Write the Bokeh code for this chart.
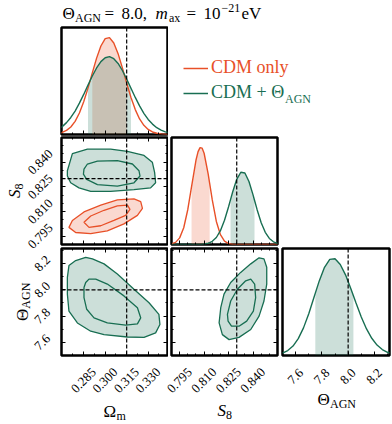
import math
from bokeh.plotting import figure
from bokeh.models import (Range1d, Span, LabelSet, ColumnDataSource, FixedTicker,
                          CustomJSTickFormatter, Legend, LegendItem, LinearAxis, Spacer)
from bokeh.layouts import column, row
from bokeh.core.properties import value
from bokeh.embed import file_html
from bokeh.resources import INLINE

RED = "#E85028"
GREEN = "#186E52"
FILL_ALPHA = 0.22
SERIF = "Liberation Serif"

# ---------------- data ----------------
TRUTH_OM = 0.315
TRUTH_S8 = 0.830
TRUTH_TH = 8.0

OM_RANGE = (0.2695, 0.3435)
S8_RANGE = (0.790, 0.855)
TH_RANGE = (7.50, 8.315)
PDF_RANGE = (0.0, 1.1)

OM_TICKS = [0.285, 0.300, 0.315, 0.330]
OM_LABELS = ["0.285", "0.300", "0.315", "0.330"]
OM_MINOR = [0.2775, 0.2925, 0.3075, 0.3225, 0.3375]
S8_TICKS = [0.795, 0.810, 0.825, 0.840]
S8_LABELS = ["0.795", "0.810", "0.825", "0.840"]
S8_MINOR = [0.790, 0.800, 0.805, 0.815, 0.820, 0.830, 0.835, 0.845, 0.850]
TH_TICKS = [7.6, 7.8, 8.0, 8.2]
TH_LABELS = ["7.6", "7.8", "8.0", "8.2"]
TH_MINOR = [7.5, 7.7, 7.9, 8.1, 8.3]

# 1D marginals: Omega_m
OM_GRID = [0.267, 0.270, 0.273, 0.276, 0.279, 0.282, 0.285, 0.288, 0.291, 0.294, 0.297,
           0.300, 0.303, 0.306, 0.309, 0.312, 0.315, 0.318, 0.321, 0.324, 0.327, 0.330,
           0.333, 0.336, 0.339, 0.342, 0.345]
OM_PDF_CDM = [0.010, 0.021, 0.042, 0.077, 0.135, 0.221, 0.336, 0.477, 0.633, 0.785, 0.910,
              0.985, 0.996, 0.941, 0.831, 0.685, 0.528, 0.380, 0.256, 0.160, 0.094, 0.052,
              0.026, 0.013, 0.006, 0.002, 0.001]
OM_PDF_AGN = [0.052, 0.081, 0.122, 0.175, 0.241, 0.322, 0.412, 0.508, 0.601, 0.684, 0.749,
              0.789, 0.800, 0.779, 0.730, 0.658, 0.571, 0.476, 0.381, 0.294, 0.218, 0.155,
              0.107, 0.070, 0.045, 0.027, 0.016]
OM_BAND_CDM = (0.291, 0.315)
OM_BAND_AGN = (0.288, 0.318)

# 1D marginals: S8
S8_GRID = [0.7875, 0.790, 0.7925, 0.795, 0.7975, 0.800, 0.8023, 0.805, 0.8063, 0.8075,
           0.8088, 0.810, 0.8125, 0.8134, 0.815, 0.8175, 0.820, 0.8225, 0.825, 0.8262,
           0.8275, 0.830, 0.8325, 0.835, 0.8375, 0.840, 0.8409, 0.8425, 0.845, 0.8475,
           0.850, 0.8525, 0.855, 0.8575]
S8_PDF_CDM = [0.001, 0.006, 0.022, 0.068, 0.172, 0.360, 0.596, 0.866, 0.955, 0.996,
              0.990, 0.938, 0.724, 0.628, 0.458, 0.237, 0.101, 0.035, 0.010, 0.005,
              0.002, 0.0, 0.0, 0.0, 0.0, 0.0, 0.0, 0.0, 0.0, 0.0,
              0.0, 0.0, 0.0, 0.0]
S8_PDF_AGN = [0.0, 0.0, 0.0, 0.0, 0.0, 0.0, 0.0, 0.0, 0.001, 0.001,
              0.002, 0.005, 0.013, 0.019, 0.033, 0.072, 0.142, 0.249, 0.388, 0.461,
              0.540, 0.670, 0.743, 0.735, 0.648, 0.510, 0.455, 0.358, 0.224, 0.125,
              0.062, 0.028, 0.011, 0.004]
S8_BAND_CDM = (0.8023, 0.8134)
S8_BAND_AGN = (0.8262, 0.8409)

# 1D marginal: Theta_AGN
TH_GRID = [7.46, 7.50, 7.54, 7.58, 7.62, 7.66, 7.70, 7.74, 7.75, 7.78, 7.82, 7.86, 7.90,
           7.94, 7.98, 8.02, 8.04, 8.06, 8.10, 8.14, 8.18, 8.22, 8.26, 8.30, 8.34]
TH_PDF_AGN = [0.011, 0.024, 0.051, 0.097, 0.174, 0.284, 0.430, 0.598, 0.641, 0.767, 0.907,
              0.988, 0.994, 0.936, 0.829, 0.689, 0.614, 0.539, 0.395, 0.273, 0.177, 0.107,
              0.061, 0.033, 0.017]
TH_BAND_AGN = (7.75, 8.04)

# 2D contours (68% inner, 95% outer)
OS_AGN_OUTER_OM = [0.2736, 0.2771, 0.2876, 0.3038, 0.3155, 0.3271, 0.3329, 0.3345, 0.3352,
                   0.3317, 0.3201, 0.3038, 0.2899, 0.2817, 0.2759, 0.2736]
OS_AGN_OUTER_S8 = [0.8348, 0.8452, 0.8479, 0.8479, 0.8466, 0.8441, 0.8400, 0.8338, 0.8275,
                   0.8244, 0.8233, 0.8223, 0.8223, 0.8244, 0.8275, 0.8316]
OS_AGN_INNER_OM = [0.2852, 0.2876, 0.2946, 0.3085, 0.3190, 0.3236, 0.3243, 0.3201, 0.3085,
                   0.2946, 0.2871, 0.2848]
OS_AGN_INNER_S8 = [0.8358, 0.8389, 0.8406, 0.8410, 0.8389, 0.8348, 0.8316, 0.8275, 0.8254,
                   0.8264, 0.8296, 0.8327]
OS_CDM_OUTER_OM = [0.2747, 0.2771, 0.2852, 0.2969, 0.3085, 0.3201, 0.3248, 0.3260, 0.3225,
                   0.3131, 0.3015, 0.2899, 0.2794]
OS_CDM_OUTER_S8 = [0.8004, 0.8046, 0.8098, 0.8139, 0.8171, 0.8177, 0.8160, 0.8119, 0.8077,
                   0.8025, 0.7983, 0.7966, 0.7973]
OS_CDM_INNER_OM = [0.2852, 0.2899, 0.2992, 0.3085, 0.3155, 0.3173, 0.3143, 0.3061, 0.2969,
                   0.2887]
OS_CDM_INNER_S8 = [0.8035, 0.8073, 0.8108, 0.8135, 0.8139, 0.8113, 0.8077, 0.8046, 0.8014,
                   0.8004]

OT_AGN_OUTER_OM = [0.2747, 0.2794, 0.2864, 0.2911, 0.2992, 0.3085, 0.3201, 0.3306, 0.3375,
                   0.3382, 0.3352, 0.3271, 0.3155, 0.2992, 0.2899, 0.2806, 0.2747, 0.2736,
                   0.2736]
OT_AGN_OUTER_TH = [8.185, 8.223, 8.248, 8.236, 8.198, 8.121, 8.005, 7.902, 7.813, 7.736,
                   7.672, 7.638, 7.641, 7.659, 7.685, 7.748, 7.838, 7.967, 8.095]
OT_AGN_INNER_OM = [0.2864, 0.2887, 0.2934, 0.3015, 0.3131, 0.3225, 0.3248, 0.3225, 0.3143,
                   0.3015, 0.2922, 0.2871, 0.2852, 0.2852]
OT_AGN_INNER_TH = [8.056, 8.082, 8.082, 8.044, 7.954, 7.864, 7.787, 7.741, 7.731, 7.748,
                   7.787, 7.852, 7.941, 8.018]

ST_AGN_OUTER_S8 = [0.8202, 0.8222, 0.8263, 0.8324, 0.8386, 0.8437, 0.8467, 0.8484, 0.8484,
                   0.8467, 0.8437, 0.8386, 0.8314, 0.8253, 0.8212, 0.8192]
ST_AGN_OUTER_TH = [7.864, 7.967, 8.056, 8.133, 8.198, 8.244, 8.236, 8.172, 8.044, 7.915,
                   7.800, 7.698, 7.638, 7.621, 7.659, 7.748]
ST_AGN_INNER_S8 = [0.8243, 0.8263, 0.8304, 0.8355, 0.8386, 0.8410, 0.8416, 0.8402, 0.8361,
                   0.8314, 0.8268, 0.8247]
ST_AGN_INNER_TH = [7.813, 7.915, 8.005, 8.069, 8.082, 8.044, 7.941, 7.838, 7.762, 7.723,
                   7.723, 7.762]

# ---------------- layout (page pixels) ----------------
FX = [61, 171, 282]      # frame left edges of the three columns
FW = [106, 106, 107]
FY = [27, 137, 248]      # frame top edges of the three rows
FH = [107, 107, 107]
COL_RANGE = [OM_RANGE, S8_RANGE, TH_RANGE]
ROW_RANGE = [PDF_RANGE, S8_RANGE, TH_RANGE]


def page_x(v, col):
    r = COL_RANGE[col]
    return FX[col] + (v - r[0]) / (r[1] - r[0]) * FW[col]


def page_y(v, rowi):
    r = ROW_RANGE[rowi]
    return FY[rowi] + (r[1] - v) / (r[1] - r[0]) * FH[rowi]


def make_fig(col, rowi, bl, br, bt, bb, diag=False):
    yr = PDF_RANGE if diag else ROW_RANGE[rowi]
    p = figure(x_range=Range1d(*COL_RANGE[col]), y_range=Range1d(*yr),
               frame_width=FW[col], frame_height=FH[rowi],
               min_border_left=bl, min_border_right=br, min_border_top=bt, min_border_bottom=bb,
               output_backend="svg", toolbar_location=None, tools="")
    p.xgrid.visible = False
    p.ygrid.visible = False
    p.outline_line_color = "black"
    p.outline_line_width = 2.5
    p.background_fill_color = "white"
    p.border_fill_color = "white"
    return p


def make_canvas(x0, x1, y0, y1):
    """A plain text strip whose data coordinates are page pixels (y downward as negative)."""
    p = figure(x_range=Range1d(x0, x1), y_range=Range1d(-y1, -y0),
               width=x1 - x0, height=y1 - y0, min_border=0,
               output_backend="svg", toolbar_location=None, tools="")
    p.axis.visible = False
    p.grid.visible = False
    p.outline_line_color = None
    p.background_fill_color = "white"
    p.border_fill_color = "white"
    return p


def style_axis(ax, major, minor):
    ax.ticker = FixedTicker(ticks=major, minor_ticks=minor)
    ax.formatter = CustomJSTickFormatter(code="return ''")
    ax.major_label_text_font_size = "0px"
    ax.major_label_standoff = 0
    ax.major_tick_in = 4
    ax.major_tick_out = 0
    ax.minor_tick_in = 2
    ax.minor_tick_out = 0
    ax.axis_line_color = None
    ax.major_tick_line_color = "black"
    ax.minor_tick_line_color = "black"


def mirror_axes(p, xmajor, xminor, ymajor, yminor):
    top = LinearAxis()
    style_axis(top, xmajor, xminor)
    p.add_layout(top, "above")
    right = LinearAxis()
    style_axis(right, ymajor, yminor)
    p.add_layout(right, "right")


def add_text(p, px, py, text, size, angle=0.0, italic=False, color="black"):
    src = ColumnDataSource(dict(x=[px], y=[-py], t=[text]))
    p.add_layout(LabelSet(x="x", y="y", text="t", source=src, angle=angle,
                          text_font=value(SERIF), text_font_size=value(f"{size}px"),
                          text_color=color,
                          text_font_style="italic" if italic else "normal",
                          text_align="left", text_baseline="alphabetic"))


def tick_label_set(p, xs, ys, labels):
    src = ColumnDataSource(dict(x=xs, y=[-v for v in ys], t=labels))
    p.add_layout(LabelSet(x="x", y="y", text="t", source=src, angle=math.pi / 4,
                          text_align="center", text_baseline="middle",
                          text_font=value(SERIF), text_font_size="13px", text_color="black"))


def band(p, grid, pdf, lims, color):
    idx = [i for i, v in enumerate(grid) if lims[0] - 1e-9 <= v <= lims[1] + 1e-9]
    xs = [grid[i] for i in idx]
    ys = [pdf[i] for i in idx]
    p.varea(x=xs, y1=[0] * len(xs), y2=ys, fill_color=color, fill_alpha=FILL_ALPHA)


def dashed(p, loc, dim):
    p.add_layout(Span(location=loc, dimension=dim, line_color="black",
                      line_dash="4 2", line_width=1.2))


def contour(p, xo, yo, xi, yi, color):
    p.patch(xo, yo, fill_color=color, fill_alpha=FILL_ALPHA, line_color=color, line_width=1.3)
    p.patch(xi, yi, fill_color=None, line_color=color, line_width=1.3)


# ---------------- title strip ----------------
T = make_canvas(0, 392, 0, 26)
add_text(T, 62, 18.5, "Θ", 17)
add_text(T, 74.5, 21.5, "AGN", 12)
add_text(T, 104, 18.5, "=", 17)
add_text(T, 121, 18.5, "8.0,", 17)
add_text(T, 155, 18.5, "m", 17, italic=True)
add_text(T, 168.5, 21.5, "ax", 12)
add_text(T, 186, 18.5, "=", 17)
add_text(T, 203, 18.5, "10", 17)
add_text(T, 221, 11.5, "−21", 12)
add_text(T, 241, 18.5, "eV", 17)

# ---------------- row 1 ----------------
f11 = make_fig(0, 0, 2, 1, 1, 2, diag=True)
style_axis(f11.xaxis[0], OM_TICKS, OM_MINOR)
f11.yaxis.visible = False
band(f11, OM_GRID, OM_PDF_CDM, OM_BAND_CDM, RED)
band(f11, OM_GRID, OM_PDF_AGN, OM_BAND_AGN, GREEN)
f11.line(OM_GRID, OM_PDF_CDM, line_color=RED, line_width=1.4)
f11.line(OM_GRID, OM_PDF_AGN, line_color=GREEN, line_width=1.4)
dashed(f11, TRUTH_OM, "height")

# legend strip (right of the top panel); proxies carry the same series, outside this strip's view
R1 = make_canvas(168, 392, 26, 136)
key_cdm = R1.line(OM_GRID, OM_PDF_CDM, line_color=RED, line_width=1.5)
key_agn = R1.line(OM_GRID, OM_PDF_AGN, line_color=GREEN, line_width=1.5)
for label, rend, color, vy in [("CDM only", key_cdm, RED, 56), ("CDM + Θ", key_agn, GREEN, 31)]:
    lg = Legend(items=[LegendItem(label=label, renderers=[rend])], location=(15, vy),
                padding=0, margin=0, spacing=0, glyph_width=25, glyph_height=20,
                label_height=20, label_standoff=3, border_line_alpha=0,
                background_fill_alpha=0, label_text_font=SERIF,
                label_text_font_size="18px", label_text_color=color)
    R1.add_layout(lg)
add_text(R1, 284.5, 104, "AGN", 12, color=GREEN)

# ---------------- row 2 ----------------
f21 = make_fig(0, 1, 2, 1, 1, 2)
style_axis(f21.xaxis[0], OM_TICKS, OM_MINOR)
style_axis(f21.yaxis[0], S8_TICKS, S8_MINOR)
mirror_axes(f21, OM_TICKS, OM_MINOR, S8_TICKS, S8_MINOR)
contour(f21, OS_AGN_OUTER_OM, OS_AGN_OUTER_S8, OS_AGN_INNER_OM, OS_AGN_INNER_S8, GREEN)
contour(f21, OS_CDM_OUTER_OM, OS_CDM_OUTER_S8, OS_CDM_INNER_OM, OS_CDM_INNER_S8, RED)
dashed(f21, TRUTH_OM, "height")
dashed(f21, TRUTH_S8, "width")

f22 = make_fig(1, 1, 3, 2, 1, 2, diag=True)
style_axis(f22.xaxis[0], S8_TICKS, S8_MINOR)
f22.yaxis.visible = False
band(f22, S8_GRID, S8_PDF_CDM, S8_BAND_CDM, RED)
band(f22, S8_GRID, S8_PDF_AGN, S8_BAND_AGN, GREEN)
f22.line(S8_GRID, S8_PDF_CDM, line_color=RED, line_width=1.4)
f22.line(S8_GRID, S8_PDF_AGN, line_color=GREEN, line_width=1.4)
dashed(f22, TRUTH_S8, "height")

# ---------------- row 3 ----------------
f31 = make_fig(0, 2, 2, 1, 2, 2)
style_axis(f31.xaxis[0], OM_TICKS, OM_MINOR)
style_axis(f31.yaxis[0], TH_TICKS, TH_MINOR)
mirror_axes(f31, OM_TICKS, OM_MINOR, TH_TICKS, TH_MINOR)
contour(f31, OT_AGN_OUTER_OM, OT_AGN_OUTER_TH, OT_AGN_INNER_OM, OT_AGN_INNER_TH, GREEN)
dashed(f31, TRUTH_OM, "height")
dashed(f31, TRUTH_TH, "width")

f32 = make_fig(1, 2, 3, 2, 2, 2)
style_axis(f32.xaxis[0], S8_TICKS, S8_MINOR)
style_axis(f32.yaxis[0], TH_TICKS, TH_MINOR)
mirror_axes(f32, S8_TICKS, S8_MINOR, TH_TICKS, TH_MINOR)
contour(f32, ST_AGN_OUTER_S8, ST_AGN_OUTER_TH, ST_AGN_INNER_S8, ST_AGN_INNER_TH, GREEN)
dashed(f32, TRUTH_S8, "height")
dashed(f32, TRUTH_TH, "width")

f33 = make_fig(2, 2, 3, 3, 2, 2, diag=True)
style_axis(f33.xaxis[0], TH_TICKS, TH_MINOR)
f33.yaxis.visible = False
band(f33, TH_GRID, TH_PDF_AGN, TH_BAND_AGN, GREEN)
f33.line(TH_GRID, TH_PDF_AGN, line_color=GREEN, line_width=1.4)
dashed(f33, TRUTH_TH, "height")

# ---------------- left label strip (rows 2-3) ----------------
L23 = make_canvas(0, 59, 136, 357)
tick_label_set(L23, [40] * len(S8_TICKS), [page_y(v, 1) for v in S8_TICKS], S8_LABELS)
tick_label_set(L23, [42] * len(TH_TICKS), [page_y(v, 2) for v in TH_TICKS], TH_LABELS)
add_text(L23, 19, 197.5, "S", 17, angle=math.pi / 2, italic=True)
add_text(L23, 22, 189, "8", 12, angle=math.pi / 2)
add_text(L23, 27, 320.5, "Θ", 17, angle=math.pi / 2)
add_text(L23, 30, 308.2, "AGN", 12, angle=math.pi / 2)

# ---------------- bottom label strip ----------------
B = make_canvas(0, 392, 357, 424)
tick_label_set(B, [page_x(v, 0) for v in OM_TICKS], [380] * 4, OM_LABELS)
tick_label_set(B, [page_x(v, 1) for v in S8_TICKS], [380] * 4, S8_LABELS)
tick_label_set(B, [page_x(v, 2) for v in TH_TICKS], [376] * 4, TH_LABELS)
add_text(B, 103, 416.5, "Ω", 17)
add_text(B, 116, 419, "m", 12)
add_text(B, 217, 415, "S", 17, italic=True)
add_text(B, 225.5, 418, "8", 12)
add_text(B, 317, 404, "Θ", 17)
add_text(B, 329.5, 407.5, "AGN", 12)

layout = column(
    T,
    row(Spacer(width=59, height=110), f11, R1),
    row(L23, column(row(f21, f22), row(f31, f32, f33))),
    B,
)
open("out.html", "w").write(file_html(layout, INLINE))
